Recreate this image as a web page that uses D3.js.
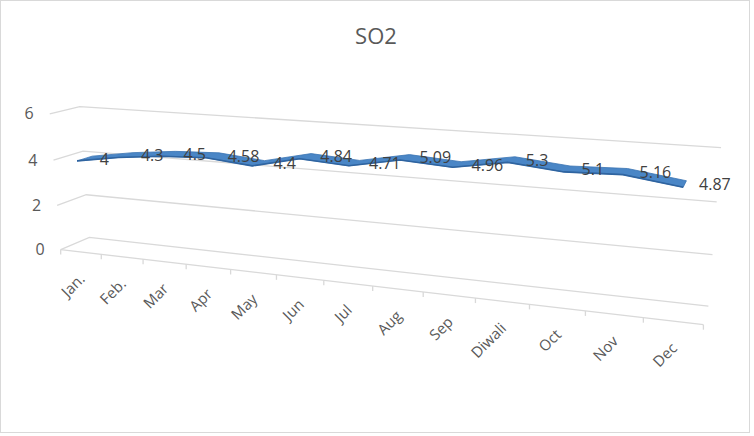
<!DOCTYPE html>
<html>
<head>
<meta charset="utf-8">
<script src="https://cdn.jsdelivr.net/npm/d3@7"></script>
<style>
  body { margin: 0; background: #fff; }
  text { font-family: "Open Sans", "Noto Sans", sans-serif; }
</style>
</head>
<body>
<div id="chart"></div>
<script>
// data
let months = ["Jan.", "Feb.", "Mar", "Apr", "May", "Jun", "Jul", "Aug", "Sep", "Diwali", "Oct", "Nov", "Dec"];
let so2 = [4, 4.3, 4.5, 4.58, 4.4, 4.84, 4.71, 5.09, 4.96, 5.3, 5.1, 5.16, 4.87];
let yTicks = [0, 2, 4, 6];

let width = 754, height = 436;

// 3D box corners (x: category axis, y: value axis, z: 0 front .. 1 back) and where they sit on screen
let frame = [
	[0, 0, 0, 60.7, 249.5], [1, 0, 0, 703.3, 325], [0, 1, 0, 50, 114],
	[0, 2/3, 0, 53.3, 160], [0, 1/3, 0, 56.7, 205],
	[0, 0, 1, 90, 237.7], [1, 0, 1, 708.3, 305.7], [0, 1, 1, 80, 106.7], [1, 1, 1, 721, 147.3],
	[0, 2/3, 1, 83.3, 151.7], [1, 2/3, 1, 716.7, 201.7], [0, 1/3, 1, 85, 194.3], [1, 1/3, 1, 712.7, 255],
	[1/13, 0, 0, 101.7, 254.3], [4/13, 0, 0, 230.7, 269.5], [7/13, 0, 0, 372.7, 286.2], [12/13, 0, 0, 643.3, 317.9]
];

// solve perspective matrix (DLT, least squares)
let cx = 400, cy = 220, sc = 300;
function solveProjection(pts) {
	let N = d3.range(11).map(() => new Array(11).fill(0));
	let r = new Array(11).fill(0);
	pts.forEach(p => {
		let [X, Y, Z] = p;
		let u = (p[3] - cx) / sc, v = (p[4] - cy) / sc;
		let rows = [
			[[X, Y, Z, 1, 0, 0, 0, 0, -u*X, -u*Y, -u*Z], u],
			[[0, 0, 0, 0, X, Y, Z, 1, -v*X, -v*Y, -v*Z], v]
		];
		rows.forEach(([a, b]) => {
			for (let i = 0; i < 11; i++) {
				r[i] += a[i] * b;
				for (let j = 0; j < 11; j++) N[i][j] += a[i] * a[j];
			}
		});
	});
	// gaussian elimination
	for (let c = 0; c < 11; c++) {
		let piv = c;
		for (let k = c + 1; k < 11; k++) if (Math.abs(N[k][c]) > Math.abs(N[piv][c])) piv = k;
		[N[c], N[piv]] = [N[piv], N[c]];
		[r[c], r[piv]] = [r[piv], r[c]];
		for (let k = c + 1; k < 11; k++) {
			let f = N[k][c] / N[c][c];
			for (let j = c; j < 11; j++) N[k][j] -= f * N[c][j];
			r[k] -= f * r[c];
		}
	}
	let p = new Array(11).fill(0);
	for (let c = 10; c >= 0; c--) {
		let s = r[c];
		for (let j = c + 1; j < 11; j++) s -= N[c][j] * p[j];
		p[c] = s / N[c][c];
	}
	return p;
}
let P = solveProjection(frame);

function project(X, Y, Z) {
	let w = P[8]*X + P[9]*Y + P[10]*Z + 1;
	let u = (P[0]*X + P[1]*Y + P[2]*Z + P[3]) / w;
	let v = (P[4]*X + P[5]*Y + P[6]*Z + P[7]) / w;
	return [u * sc + cx, v * sc + cy];
}

// scales
let x = d3.scaleBand().domain(months).range([0, 1]).paddingInner(0).paddingOuter(0);
let y = d3.scaleLinear().domain([0, 6]).range([0, 1]);
let xc = m => x(m) + x.bandwidth() / 2;

let svg = d3.select("#chart").append("svg")
	.attr("width", width)
	.attr("height", height);

svg.append("rect")
	.attr("x", 0.5).attr("y", 0.5)
	.attr("width", width - 5).attr("height", height - 4)
	.attr("fill", "#fff")
	.attr("stroke", "#d9d9d9");

let line = d3.line();

// gridlines on side wall + back wall
svg.selectAll(".grid")
	.data(yTicks)
	.enter()
	.append("path")
	.attr("class", "grid")
	.attr("fill", "none")
	.attr("stroke", "#d9d9d9")
	.attr("stroke-width", 1.3)
	.attr("d", t => line([project(0, y(t), 0), project(0, y(t), 1), project(1, y(t), 1)]));

// floor front edge
svg.append("path")
	.attr("fill", "none")
	.attr("stroke", "#d9d9d9")
	.attr("stroke-width", 1.3)
	.attr("d", line([project(0, 0, 0), project(1, 0, 0)]));

// category ticks
let tickPos = months.map(m => x(m)).concat([1]);
svg.selectAll(".tick")
	.data(tickPos)
	.enter()
	.append("path")
	.attr("class", "tick")
	.attr("stroke", "#d9d9d9")
	.attr("stroke-width", 1.3)
	.attr("d", t => {
		let p = project(t, 0, 0);
		return line([p, [p[0], p[1] + 5]]);
	});

// value axis labels
svg.selectAll(".ylab")
	.data(yTicks)
	.enter()
	.append("text")
	.attr("class", "ylab")
	.attr("x", t => project(0, y(t), 0)[0] - 16)
	.attr("y", t => project(0, y(t), 0)[1])
	.attr("dy", "0.35em")
	.attr("text-anchor", "end")
	.attr("font-size", 16)
	.attr("fill", "#595959")
	.text(t => t);

// category labels
svg.selectAll(".xlab")
	.data(months)
	.enter()
	.append("text")
	.attr("class", "xlab")
	.attr("transform", m => {
		let p = project(xc(m), 0, 0);
		return "translate(" + (p[0] + 5) + "," + (p[1] + 28) + ") rotate(-45)";
	})
	.attr("text-anchor", "end")
	.attr("font-size", 15)
	.attr("fill", "#595959")
	.text(m => m);

// ribbon
let zFront = 0.1, zBack = 0.62;
let frontEdge = months.map((m, i) => project(xc(m), y(so2[i]), zFront));
let backEdge = months.map((m, i) => project(xc(m), y(so2[i]), zBack));

svg.append("path")
	.attr("fill", "#4a86c6")
	.attr("stroke", "#3a73b2")
	.attr("stroke-width", 0.8)
	.attr("stroke-linejoin", "round")
	.attr("d", line(frontEdge.concat(backEdge.slice().reverse())) + "Z");

svg.append("path")
	.attr("fill", "none")
	.attr("stroke", "#2f64a0")
	.attr("stroke-width", 1.6)
	.attr("stroke-linejoin", "round")
	.attr("d", line(frontEdge));

// data labels, to the right of each point
svg.selectAll(".dlab")
	.data(so2)
	.enter()
	.append("text")
	.attr("class", "dlab")
	.attr("x", (d, i) => project(xc(months[i]), y(d), 0.4)[0] + 14)
	.attr("y", (d, i) => project(xc(months[i]), y(d), 0.4)[1] + 1)
	.attr("dy", "0.35em")
	.attr("font-size", 16)
	.attr("fill", "#404040")
	.text(d => d);

// title
svg.append("text")
	.attr("x", 376)
	.attr("y", 44)
	.attr("text-anchor", "middle")
	.attr("font-size", 22)
	.attr("fill", "#595959")
	.text("SO2");
</script>
</body>
</html>
